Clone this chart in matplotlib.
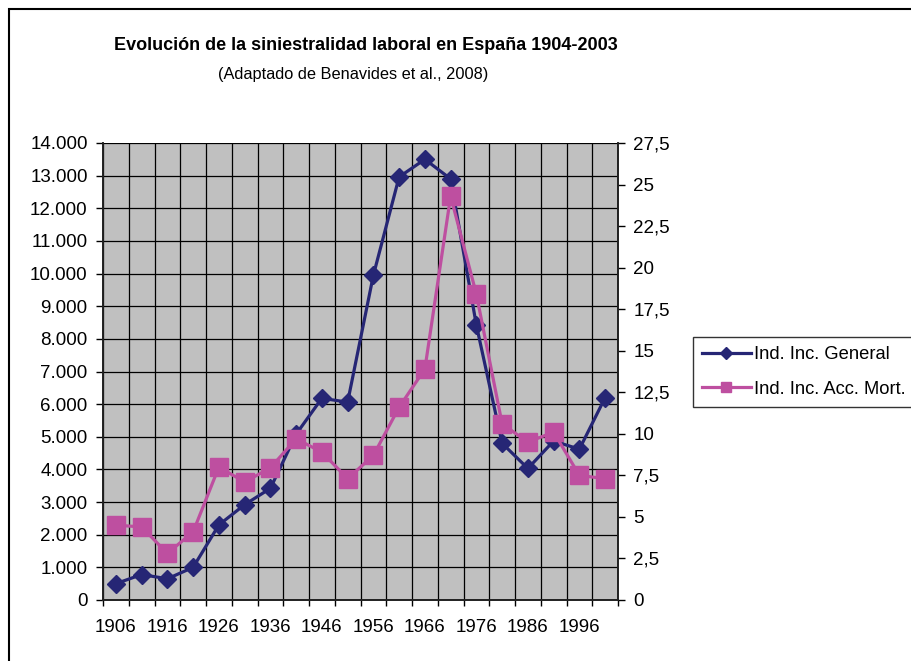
import matplotlib
matplotlib.use("Agg")
import matplotlib.pyplot as plt
from matplotlib.patches import Rectangle
from matplotlib.ticker import FixedLocator, FuncFormatter

plt.rcParams['font.family'] = ['Liberation Sans', 'DejaVu Sans']

years = [1906, 1911, 1916, 1921, 1926, 1931, 1936, 1941, 1946, 1951,
         1956, 1961, 1966, 1971, 1976, 1981, 1986, 1991, 1996, 2001]
general = [500, 780, 650, 1000, 2300, 2920, 3420, 5080, 6180, 6060,
           9950, 12960, 13500, 12900, 8420, 4800, 4030, 4870, 4620, 6200]
mortal = [4.5, 4.4, 2.8, 4.1, 8.0, 7.1, 7.95, 9.7, 8.9, 7.3,
          8.7, 11.6, 13.9, 24.3, 18.4, 10.6, 9.5, 10.1, 7.5, 7.3]
title = "Evolución de la siniestralidad laboral en España 1904-2003"
subtitle = "(Adaptado de Benavides et al., 2008)"
labels = ["Ind. Inc. General", "Ind. Inc. Acc. Mort."]

W, H = 911, 661
fig = plt.figure(figsize=(W / 100, H / 100), dpi=100)
fig.patch.set_facecolor('white')

L, R, T, B = 103, 618, 143, 600
ax = fig.add_axes([L / W, 1 - B / H, (R - L) / W, (B - T) / H])
ax.set_facecolor('#C0C0C0')
ax2 = ax.twinx()

x = list(range(len(years)))
blue = '#262675'
pink = '#BE4FA0'
l1, = ax.plot(x, general, color=blue, lw=2.3, marker='D', markersize=9.5,
              markeredgecolor=blue, markerfacecolor=blue, zorder=3)
l2, = ax2.plot(x, mortal, color=pink, lw=2.3, marker='s', markersize=12.5,
               markeredgecolor=pink, markerfacecolor=pink, zorder=3)

n = len(years)
ax.set_xlim(-0.5, n - 0.5)
ax.set_ylim(0, 14000)
ax2.set_ylim(0, 27.5)

ax.xaxis.set_major_locator(FixedLocator([i - 0.5 for i in range(n + 1)]))
ax.xaxis.set_major_formatter(FuncFormatter(lambda v, p: ''))
ax.xaxis.set_minor_locator(FixedLocator(list(range(0, n, 2))))
ax.xaxis.set_minor_formatter(FuncFormatter(lambda v, p: str(years[int(round(v))])))
ax.tick_params(axis='x', which='major', direction='out', length=4, width=1, color='black')
ax.tick_params(axis='x', which='minor', length=0, pad=14, labelsize=13.5)

ax.set_yticks(range(0, 14001, 1000))
ax.yaxis.set_major_formatter(FuncFormatter(lambda v, p: f"{int(v):,}".replace(',', '.')))
ax.tick_params(axis='y', direction='out', length=5, width=1, pad=6, labelsize=13.5)

rt = [i * 2.5 for i in range(12)]
ax2.set_yticks(rt)
def rfmt(v, p):
    s = f"{v:.1f}".rstrip('0').rstrip('.')
    return s.replace('.', ',')
ax2.yaxis.set_major_formatter(FuncFormatter(rfmt))
ax2.tick_params(axis='y', direction='out', length=5, width=1, pad=6, labelsize=13.5)

ax.set_axisbelow(True)
ax.grid(True, which='major', color='black', lw=0.9)

for a in (ax, ax2):
    a.spines['top'].set_visible(False)
    for s in ('left', 'right', 'bottom'):
        a.spines[s].set_color('#202020')
        a.spines[s].set_linewidth(1.2)

fig.text(366 / W, 1 - 45 / H, title, ha='center', va='center',
         fontsize=13, fontweight='bold')
fig.text(353 / W, 1 - 75 / H, subtitle, ha='center', va='center', fontsize=11.8)

leg = fig.legend([l1, l2], labels, loc='upper left',
                 bbox_to_anchor=(693 / W, 1 - 337 / H), borderaxespad=0,
                 frameon=True, fancybox=False, edgecolor='black',
                 fontsize=13.2, handlelength=2.65, handletextpad=0.15,
                 borderpad=0.5, labelspacing=0.95, markerscale=0.6)
leg.get_frame().set_linewidth(1.0)

fig.patches.append(Rectangle((9 / W, -0.1), 2, 1.1 - 9 / H, transform=fig.transFigure,
                             fill=False, edgecolor='black', lw=1.5, figure=fig))

fig.savefig('out.png', dpi=100)
